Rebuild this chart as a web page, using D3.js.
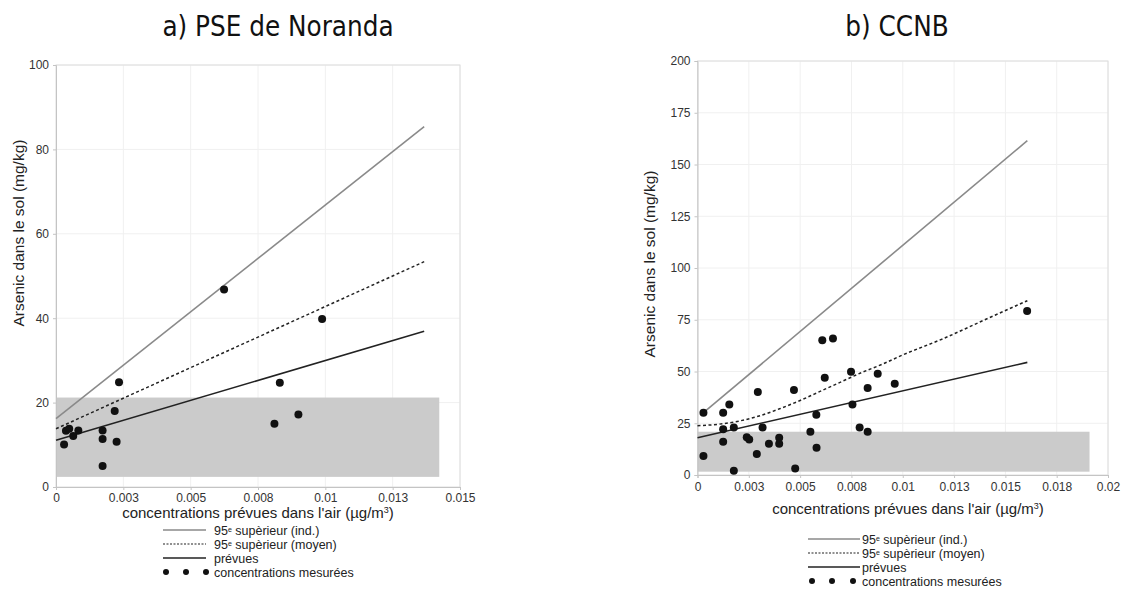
<!DOCTYPE html>
<html>
<head>
<meta charset="utf-8">
<script src="https://cdn.jsdelivr.net/npm/d3@7"></script>
<style>
  body { margin: 0; background: #fff; }
  text { font-family: "Liberation Sans", Arial, sans-serif; }
</style>
</head>
<body>
<script>
// ---- a) PSE de Noranda ----
const aPointsX = [0.0003, 0.00037, 0.00049, 0.00064, 0.00083, 0.00173, 0.00173, 0.00173, 0.00218, 0.00225, 0.00234, 0.00624, 0.00811, 0.00831, 0.009, 0.00988];
const aPointsY = [10.1, 13.3, 13.8, 12.1, 13.4, 13.4, 11.4, 5.0, 18.0, 10.7, 24.8, 46.8, 15.0, 24.7, 17.2, 39.8];
const aLineX = [0, 0.01367];
const aInd = [16.2, 85.4];
const aMoyenX = [0, 0.01367];
const aMoyen = [13.8, 53.4];
const aPrevues = [11.1, 36.9];
const aShadeX = [0, 0.01423];
const aShadeY = [2.4, 21.2];
const aXTicks = [0, 0.0025, 0.005, 0.0075, 0.01, 0.0125, 0.015];
const aXLabels = ["0", "0.003", "0.005", "0.008", "0.01", "0.013", "0.015"];
const aYTicks = [0, 20, 40, 60, 80, 100];

// ---- b) CCNB ----
const bPointsX = [0.00029, 0.00029, 0.00125, 0.00125, 0.00125, 0.00155, 0.00177, 0.00177, 0.0024, 0.00252, 0.00289, 0.00294, 0.00317, 0.00348, 0.00398, 0.00398, 0.0047, 0.00476, 0.0055, 0.00579, 0.0058, 0.00608, 0.0062, 0.0066, 0.00748, 0.00755, 0.0079, 0.00829, 0.00829, 0.00878, 0.00961, 0.01606];
const bPointsY = [30.1, 9.2, 30.1, 22.1, 16.1, 34.1, 2.1, 23.0, 18.2, 17.2, 10.1, 40.1, 23.0, 15.1, 18.0, 15.1, 41.1, 3.2, 20.9, 29.1, 13.2, 65.1, 47.0, 66.0, 49.9, 34.1, 23.0, 42.0, 20.9, 48.9, 44.1, 79.2];
const bIndX = [0.00029, 0.01607];
const bInd = [30.1, 161.5];
const bMoyenX = [0, 0.001, 0.002, 0.003, 0.004, 0.005, 0.006, 0.007, 0.008, 0.009, 0.01, 0.012, 0.014, 0.01607];
const bMoyen = [23.8, 24.5, 26, 28.5, 32, 36, 40.5, 45, 49.5, 53.5, 58, 66, 75, 84.2];
const bPrevuesX = [0, 0.01607];
const bPrevues = [18.0, 54.4];
const bShadeX = [0, 0.0191];
const bShadeY = [1.6, 20.9];
const bXTicks = [0, 0.0025, 0.005, 0.0075, 0.01, 0.0125, 0.015, 0.0175, 0.02];
const bXLabels = ["0", "0.003", "0.005", "0.008", "0.01", "0.013", "0.015", "0.018", "0.02"];
const bYTicks = [0, 25, 50, 75, 100, 125, 150, 175, 200];

const legendLabels = ["supèrieur (ind.)", "supèrieur (moyen)", "prévues", "concentrations mesurées"];

const width = 1123, height = 598;
const svg = d3.select("body").append("svg").attr("width", width).attr("height", height);

function drawPanel(p) {
  const x = d3.scaleLinear().domain(p.xDomain).range([p.left, p.right]);
  const y = d3.scaleLinear().domain(p.yDomain).range([p.bottom, p.top]);
  const g = svg.append("g");

  // light grid
  g.selectAll(".vg").data(p.xTicks.slice(1)).enter().append("line")
    .attr("x1", d => x(d)).attr("x2", d => x(d))
    .attr("y1", p.top).attr("y2", p.bottom)
    .attr("stroke", "#f0f0f0");
  g.selectAll(".hg").data(p.yTicks.slice(1)).enter().append("line")
    .attr("x1", p.left).attr("x2", p.right)
    .attr("y1", d => y(d)).attr("y2", d => y(d))
    .attr("stroke", "#f0f0f0");

  // frame top/right
  g.append("rect").attr("x", p.left).attr("y", p.top)
    .attr("width", p.right - p.left).attr("height", p.bottom - p.top)
    .attr("fill", "none").attr("stroke", "#dedede");

  // reference range
  g.append("rect")
    .attr("x", x(p.shadeX[0])).attr("width", x(p.shadeX[1]) - x(p.shadeX[0]))
    .attr("y", y(p.shadeY[1])).attr("height", y(p.shadeY[0]) - y(p.shadeY[1]))
    .attr("fill", "#cbcbcb");

  // axes
  const xAxis = g.append("g").attr("transform", `translate(0,${p.bottom})`)
    .call(d3.axisBottom(x).tickValues(p.xTicks).tickFormat((d, i) => p.xLabels[i]).tickSize(3).tickPadding(p.xPad));
  const yAxis = g.append("g").attr("transform", `translate(${p.left},0)`)
    .call(d3.axisLeft(y).tickValues(p.yTicks).tickSize(3).tickPadding(4));
  [xAxis, yAxis].forEach(a => {
    a.select(".domain").attr("stroke", "#c4c4c4");
    a.selectAll(".tick line").attr("stroke", "#c4c4c4");
    a.selectAll(".tick text").attr("fill", "#333").style("font-size", "12px");
  });

  const line = d3.line().x(d => x(d[0])).y(d => y(d[1]));
  const lineCurve = d3.line().x(d => x(d[0])).y(d => y(d[1])).curve(d3.curveMonotoneX);

  g.append("path").datum(d3.zip(p.indX, p.ind)).attr("d", line)
    .attr("fill", "none").attr("stroke", "#8a8a8a").attr("stroke-width", 1.6);
  g.append("path").datum(d3.zip(p.moyenX, p.moyen)).attr("d", lineCurve)
    .attr("fill", "none").attr("stroke", "#222").attr("stroke-width", 1.5).attr("stroke-dasharray", "3,2.5");
  g.append("path").datum(d3.zip(p.prevuesX, p.prevues)).attr("d", line)
    .attr("fill", "none").attr("stroke", "#222").attr("stroke-width", 1.6);

  g.selectAll(".pt").data(d3.zip(p.px, p.py)).enter().append("circle")
    .attr("cx", d => x(d[0])).attr("cy", d => y(d[1])).attr("r", 4)
    .attr("fill", "#111");

  // titles and labels
  svg.append("text").attr("x", p.titleX).attr("y", 36).attr("text-anchor", "middle")
    .style("font-family", "'Liberation Sans Narrow', 'DejaVu Sans Condensed', sans-serif")
    .style("font-size", "27.5px").attr("fill", "#111").text(p.title);

  const xl = svg.append("text").attr("x", p.xLabelX).attr("y", p.xLabelY).attr("text-anchor", "middle")
    .style("font-size", "15px").attr("fill", "#222");
  xl.append("tspan").text("concentrations prévues dans l'air (µg/m");
  xl.append("tspan").attr("baseline-shift", "super").style("font-size", "9px").text("3");
  xl.append("tspan").text(")");

  svg.append("text").attr("transform", `translate(${p.yLabelX},${p.yLabelY}) rotate(-90)`)
    .attr("text-anchor", "middle").style("font-size", "15.5px").attr("fill", "#222")
    .text("Arsenic dans le sol (mg/kg)");

  // legend
  const L = p.legend;
  const rows = L.rows;
  const lx0 = L.lineX[0], lx1 = L.lineX[1];
  svg.append("line").attr("x1", lx0).attr("x2", lx1).attr("y1", rows[0]).attr("y2", rows[0])
    .attr("stroke", "#8a8a8a").attr("stroke-width", 1.4);
  svg.append("line").attr("x1", lx0).attr("x2", lx1).attr("y1", rows[1]).attr("y2", rows[1])
    .attr("stroke", "#222").attr("stroke-width", 1.2).attr("stroke-dasharray", "2,1.5");
  svg.append("line").attr("x1", lx0).attr("x2", lx1).attr("y1", rows[2]).attr("y2", rows[2])
    .attr("stroke", "#222").attr("stroke-width", 1.5);
  svg.selectAll(null).data(L.dots).enter().append("circle")
    .attr("cx", d => d).attr("cy", rows[3]).attr("r", 3).attr("fill", "#111");

  legendLabels.forEach((lab, i) => {
    const t = svg.append("text").attr("x", L.textX).attr("y", rows[i] + 4.5)
      .style("font-size", "12.5px").attr("fill", "#222");
    if (i < 2) {
      t.append("tspan").text("95");
      t.append("tspan").attr("baseline-shift", "super").style("font-size", "7px").text("e");
      t.append("tspan").text(" " + lab);
    } else {
      t.text(lab);
    }
  });
}

drawPanel({
  title: "a) PSE de Noranda", titleX: 278,
  xDomain: [0, 0.015], yDomain: [0, 100],
  left: 56, right: 460, top: 65, bottom: 487, xPad: 3,
  xTicks: aXTicks, xLabels: aXLabels, yTicks: aYTicks,
  shadeX: aShadeX, shadeY: aShadeY,
  indX: aLineX, ind: aInd, moyenX: aMoyenX, moyen: aMoyen, prevuesX: aLineX, prevues: aPrevues,
  px: aPointsX, py: aPointsY,
  xLabelX: 258, xLabelY: 518, yLabelX: 24, yLabelY: 233,
  legend: { lineX: [163, 206], dots: [166, 186, 206], textX: 214, rows: [530, 544, 558, 572] }
});

drawPanel({
  title: "b) CCNB", titleX: 897,
  xDomain: [0, 0.02], yDomain: [0, 200],
  left: 697.5, right: 1108, top: 61, bottom: 475, xPad: 4,
  xTicks: bXTicks, xLabels: bXLabels, yTicks: bYTicks,
  shadeX: bShadeX, shadeY: bShadeY,
  indX: bIndX, ind: bInd, moyenX: bMoyenX, moyen: bMoyen, prevuesX: bPrevuesX, prevues: bPrevues,
  px: bPointsX, py: bPointsY,
  xLabelX: 908, xLabelY: 514, yLabelX: 655, yLabelY: 264,
  legend: { lineX: [808, 860], dots: [812, 832, 853], textX: 862, rows: [539, 553, 567, 581] }
});
</script>
</body>
</html>
